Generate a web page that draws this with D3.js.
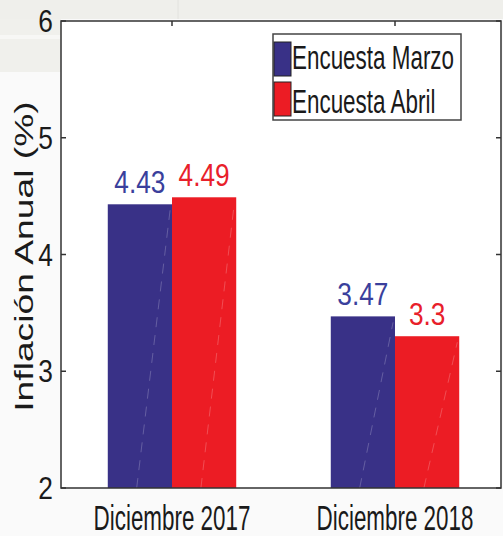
<!DOCTYPE html>
<html><head><meta charset="utf-8">
<script src="https://cdn.jsdelivr.net/npm/d3@7"></script>
<style>
html,body{margin:0;padding:0;background:#fafafa;}
svg{display:block;font-family:"Liberation Sans",Arial,sans-serif;}
</style></head>
<body>
<script>
const categories = ["Diciembre 2017", "Diciembre 2018"];
const seriesNames = ["Encuesta Marzo", "Encuesta Abril"];
const marzo = [4.43, 3.47];
const abril = [4.49, 3.3];
const valueLabels = [["4.43", "3.47"], ["4.49", "3.3"]];
const yTicks = [2, 3, 4, 5, 6];
const yLabel = "Inflación Anual (%)";

(function(){
const W = 503, H = 536;
const colors = ["#393187", "#ec1c24"];
const labelColors = ["#3a3f9c", "#e8202a"];

const svg = d3.select("body").append("svg").attr("width", W).attr("height", H);

svg.append("rect").attr("x",0).attr("y",0).attr("width",W).attr("height",H).attr("fill","#fafafa");
svg.append("rect").attr("x",0).attr("y",0).attr("width",W).attr("height",19).attr("fill","#efefeb");
svg.append("rect").attr("x",0).attr("y",19).attr("width",61).attr("height",53).attr("fill","#f0f0ec");
svg.append("rect").attr("x",0).attr("y",35).attr("width",61).attr("height",4).attr("fill","#f7f7f5");
svg.append("line").attr("x1",178).attr("x2",178).attr("y1",0).attr("y2",19).attr("stroke","#e2e2de");

const pL = 61, pR = 501, pT = 21, pB = 488;
const x = d3.scaleLinear().domain([0.5, 2.5]).range([60.5, 506.5]);
const y = d3.scaleLinear().domain([2, 6]).range([pB, pT]);
const bw = 0.288;
const start = (s, i) => s === 0 ? i + 1 - bw : i + 1;

svg.append("rect").attr("x",pL).attr("y",pT).attr("width",pR-pL).attr("height",pB-pT).attr("fill","#ffffff");

// text placed with a horizontal scale transform (narrow, tall lettering)
function label(parent, tx, ty, txt, size, kx, anchor, fill, rot){
  const r = rot ? ` rotate(${rot})` : "";
  return parent.append("text")
    .attr("transform", `translate(${tx},${ty})${r} scale(${kx},1)`)
    .attr("text-anchor", anchor).attr("font-size", size).attr("fill", fill)
    .text(txt);
}

const series = [marzo, abril];
series.forEach((vals, s) => {
  const g = svg.append("g");
  g.selectAll("rect").data(vals).join("rect")
    .attr("x", (d,i) => x(start(s,i)))
    .attr("width", x(bw) - x(0))
    .attr("y", d => y(d))
    .attr("height", d => y(2) - y(d))
    .attr("fill", colors[s]);
  g.selectAll("line").data(vals).join("line")
    .attr("x1", (d,i) => x(start(s,i) + bw*0.45))
    .attr("x2", (d,i) => x(start(s,i) + bw*0.97))
    .attr("y1", y(2))
    .attr("y2", d => y(d)+6)
    .attr("stroke", "#ffffff").attr("stroke-opacity", 0.22)
    .attr("stroke-width", 1).attr("stroke-dasharray", "10,8");
  vals.forEach((d,i) => {
    label(svg, x(start(s,i) + bw/2), y(d) - 11, valueLabels[s][i], 32, 0.82, "middle", labelColors[s]);
  });
});

const axisColor = "#333";
svg.append("path")
  .attr("d", `M${pL},${pT}V${pB}H${pR}V${pT}Z`)
  .attr("fill","none").attr("stroke",axisColor).attr("stroke-width",1.5);

yTicks.forEach(v => {
  svg.append("line").attr("x1",pL).attr("x2",pL+5).attr("y1",y(v)).attr("y2",y(v)).attr("stroke",axisColor).attr("stroke-width",1.5);
  svg.append("line").attr("x1",pR).attr("x2",pR-5).attr("y1",y(v)).attr("y2",y(v)).attr("stroke",axisColor).attr("stroke-width",1.5);
  label(svg, 53, y(v) + 11, String(v), 31, 0.85, "end", "#1a1a1a");
});

categories.forEach((c,i) => {
  svg.append("line").attr("x1",x(i+1)).attr("x2",x(i+1)).attr("y1",pT).attr("y2",pT+5).attr("stroke",axisColor).attr("stroke-width",1.5);
  label(svg, x(i+1), 530, c, 35, 0.64, "middle", "#1a1a1a");
});

// rotated y label, stretched along its length
svg.append("text")
  .attr("transform", `translate(33,${(100+413)/2}) rotate(-90) scale(1.49,1)`)
  .attr("text-anchor","middle").attr("font-size", 25).attr("fill","#1a1a1a")
  .text(yLabel);

const lg = svg.append("g");
lg.append("rect").attr("x",273).attr("y",34).attr("width",188).attr("height",86)
  .attr("fill","#fff").attr("stroke","#444").attr("stroke-width",1.5);
seriesNames.forEach((n,i) => {
  lg.append("rect").attr("x",274).attr("y",42 + i*40).attr("width",17).attr("height",34)
    .attr("fill",colors[i]).attr("stroke","#222").attr("stroke-width",1);
  label(lg, 292, 69 + i*44, n, 33, 0.68, "start", "#1a1a1a");
});
})();
</script>
</body></html>
